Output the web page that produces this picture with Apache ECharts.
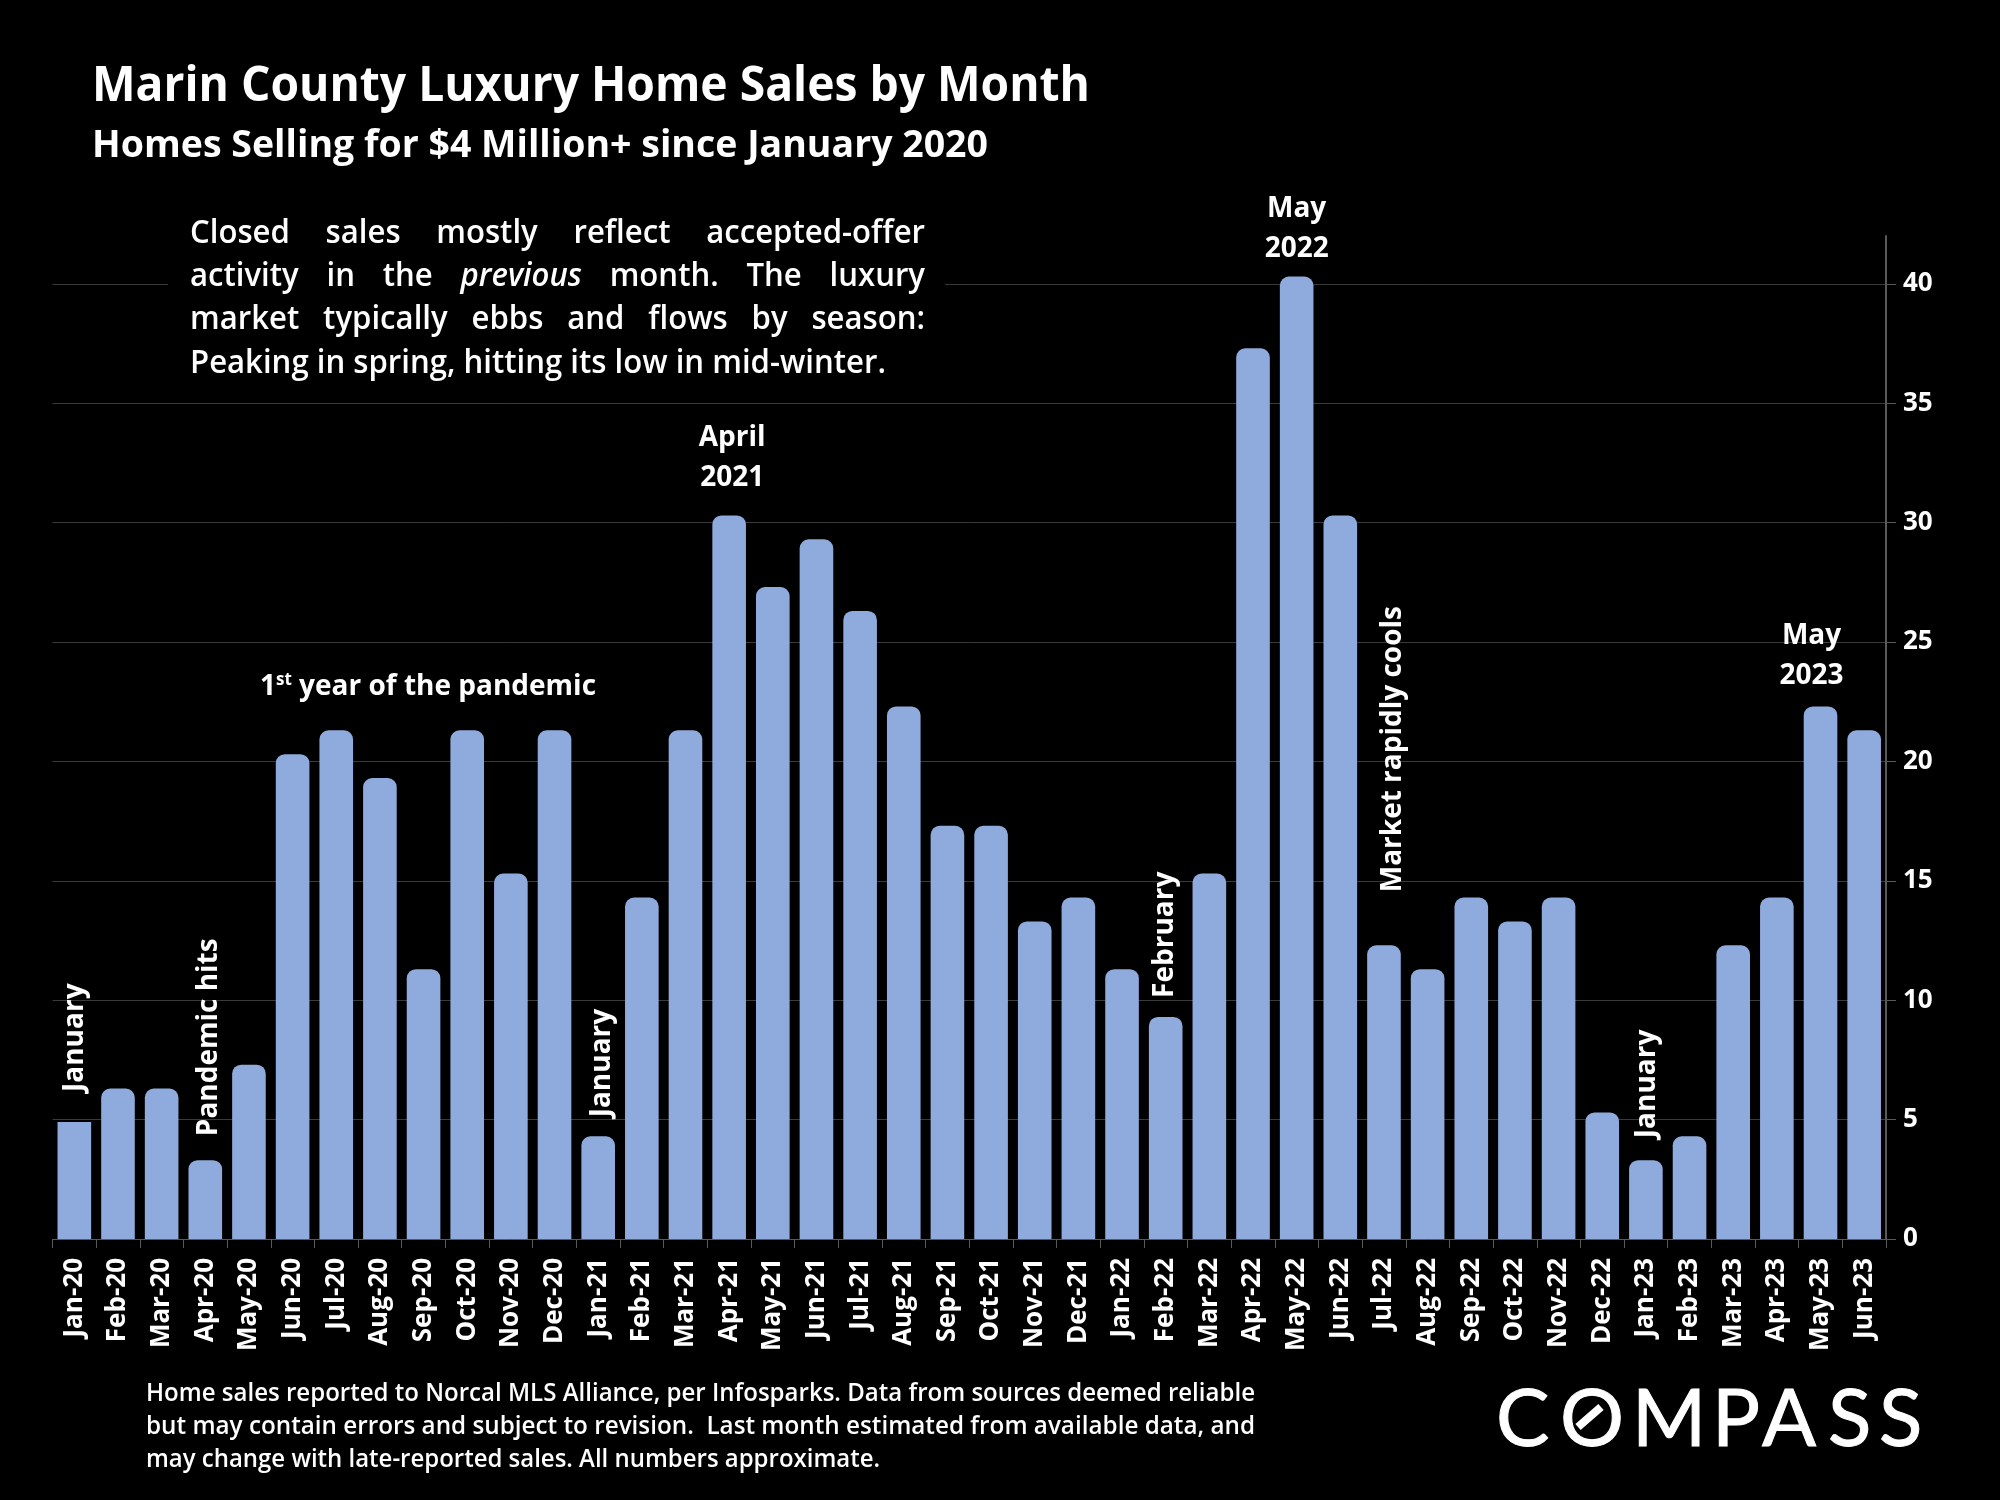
<!DOCTYPE html>
<html>
<head>
<meta charset="utf-8">
<title>Marin County Luxury Home Sales by Month</title>
<script src="https://cdn.jsdelivr.net/npm/echarts@6/dist/echarts.min.js"></script>
<style>
html,body{margin:0;padding:0;background:#000;}
#main{width:2000px;height:1500px;}
</style>
</head>
<body>
<div id="main"></div>
<script>
var months = ['Jan-20','Feb-20','Mar-20','Apr-20','May-20','Jun-20','Jul-20','Aug-20','Sep-20','Oct-20','Nov-20','Dec-20',
	'Jan-21','Feb-21','Mar-21','Apr-21','May-21','Jun-21','Jul-21','Aug-21','Sep-21','Oct-21','Nov-21','Dec-21',
	'Jan-22','Feb-22','Mar-22','Apr-22','May-22','Jun-22','Jul-22','Aug-22','Sep-22','Oct-22','Nov-22','Dec-22',
	'Jan-23','Feb-23','Mar-23','Apr-23','May-23','Jun-23'];
var sales = [4.9,6.3,6.3,3.3,7.3,20.3,21.3,19.3,11.3,21.3,15.3,21.3,
	4.3,14.3,21.3,30.3,27.3,29.3,26.3,22.3,17.3,17.3,13.3,14.3,
	11.3,9.3,15.3,37.3,40.3,30.3,12.3,11.3,14.3,13.3,14.3,5.3,
	3.3,4.3,12.3,14.3,22.3,21.3];
var yTicks = [0,5,10,15,20,25,30,35,40];
var yMax = 42;

var noteMonths = ['Jan-20','Apr-20','Jan-21','Apr-21','Feb-22','May-22','Jul-22','Jan-23','May-23'];
var noteTexts = ['January','Pandemic hits','January','April\n2021','February','May\n2022','Market rapidly cools','January','May\n2023'];

var titleText = 'Marin County Luxury Home Sales by Month';
var subtitleText = 'Homes Selling for $4 Million+ since January 2020';
var bodyLines = [
	'Closed sales mostly reflect accepted-offer',
	'activity in the previous month. The luxury',
	'market typically ebbs and flows by season:',
	'Peaking in spring, hitting its low in mid-winter.'
];
var footLines = [
	'Home sales reported to Norcal MLS Alliance, per Infosparks. Data from sources deemed reliable',
	'but may contain errors and subject to revision.  Last month estimated from available data, and',
	'may change with late-reported sales. All numbers approximate.'
];
var logoLetters = ['C','O','M','P','A','S','S'];

var FONT = '"Open Sans", "Noto Sans", sans-serif';
var BAR = '#8faadc';

// gap between the bar top and its note, by note index
var noteGap = [30,24,19,17,19,8,53,22,10];
// sideways nudge of each note in screen px
var noteShift = [1,4,4,3,-1,0,9,1,-9];

var ctx = document.createElement('canvas').getContext('2d');
function widthOf(str,size,weight,style){
	ctx.font = (style||'normal')+' '+weight+' '+size+'px "Open Sans"';
	return ctx.measureText(str).width;
}
// baseline y -> the y zrender wants for a middle aligned text
function textEl(str,x,base,size,weight,sx,style){
	return {
		type:'text', z:100, x:x, y:base-size*0.355, scaleX:sx||1,
		style:{text:str,fill:'#fff',font:(style||'normal')+' '+weight+' '+size+'px '+FONT,align:'left',verticalAlign:'middle'}
	};
}
// one line squeezed to the width it has in the picture
function fitLine(str,x,base,size,weight,w){
	return textEl(str,x,base,size,weight,w/widthOf(str,size,weight));
}

var graphics = [];
graphics.push({type:'rect',z:1,shape:{x:168,y:215,width:777,height:170},style:{fill:'#000'}});
graphics.push(fitLine(titleText,92,104,49,700,998));
graphics.push(fitLine(subtitleText,92,160,38,700,896));

// paragraph, justified word by word
var bodySize = 33, bodyW = 600, bodyX = 190, bodyRight = 925;
var bodyBase = [245,288,331,375];
var bodyScale = 696/widthOf(bodyLines[3],bodySize,bodyW);
for(var i=0;i<bodyLines.length;i++){
	if(i==3){
		graphics.push(textEl(bodyLines[i],bodyX,bodyBase[i],bodySize,bodyW,bodyScale));
		continue;
	}
	var words = bodyLines[i].split(' ');
	var used = 0;
	for(var j=0;j<words.length;j++){
		used += widthOf(words[j],bodySize,bodyW,words[j]=='previous'?'italic':'normal')*bodyScale;
	}
	var gap = (bodyRight-bodyX-used)/(words.length-1);
	var cx = bodyX;
	for(var j=0;j<words.length;j++){
		var st = words[j]=='previous'?'italic':'normal';
		graphics.push(textEl(words[j],cx,bodyBase[i],bodySize,bodyW,bodyScale,st));
		cx += widthOf(words[j],bodySize,bodyW,st)*bodyScale+gap;
	}
}

// 1st year note
graphics.push({
	type:'text', z:100, x:260, y:687,
	style:{
		text:'1{s|st} year of the pandemic', fill:'#fff', font:'700 28px '+FONT, align:'left', verticalAlign:'middle',
		rich:{s:{fontSize:17,fontWeight:700,fontFamily:FONT,fill:'#fff',verticalAlign:'top',lineHeight:30,padding:[0,0,10,0]}}
	}
});

// footer
graphics.push(fitLine(footLines[0],146,1403,26,600,1109));
graphics.push(fitLine(footLines[1],146,1436,26,600,1109));
graphics.push(fitLine(footLines[2],146,1469,26,600,734));

// logo
var logoX = [1496,1560,1632,1712,1762,1828,1879];
for(var i=0;i<logoLetters.length;i++){
	graphics.push({
		type:'text', z:100, x:logoX[i], y:1420,
		style:{text:logoLetters[i],fill:'#fff',stroke:'#fff',lineWidth:1,font:'400 80px Lato, '+FONT,align:'left',verticalAlign:'middle'}
	});
}
graphics.push({type:'line',z:100,shape:{x1:1578,y1:1427,x2:1601,y2:1407},style:{stroke:'#fff',lineWidth:8}});

var barData = [];
for(var i=0;i<sales.length;i++){
	var item = {value:sales[i]};
	if(i==0){item.itemStyle = {borderRadius:0};}
	barData.push(item);
}
for(var n=0;n<noteMonths.length;n++){
	var isStacked = noteTexts[n].indexOf('\n')>=0;
	barData[months.indexOf(noteMonths[n])].label = {
		show:true,
		formatter:noteTexts[n],
		position:'top',
		distance:noteGap[n],
		// offset turns with the label, so a rotated note moves sideways on its y
		offset:isStacked?[noteShift[n],0]:[0,noteShift[n]],
		rotate:isStacked?0:90,
		align:isStacked?'center':'left',
		verticalAlign:isStacked?'bottom':'middle',
		lineHeight:40,
		color:'#fff',
		fontFamily:FONT,
		fontSize:28,
		fontWeight:700
	};
}

var myChart = echarts.init(document.getElementById('main'));
var option = {
	animation:false,
	backgroundColor:'#000',
	textStyle:{fontFamily:FONT},
	grid:{left:52.5,right:114,top:236,bottom:261},
	xAxis:{
		type:'category',
		data:months,
		boundaryGap:true,
		axisLine:{lineStyle:{color:'#595959',width:1}},
		axisTick:{show:true,alignWithLabel:false,interval:0,length:9,lineStyle:{color:'#595959',width:1}},
		axisLabel:{interval:0,rotate:90,margin:19,color:'#fff',fontFamily:FONT,fontSize:26,fontWeight:700},
		splitLine:{show:false}
	},
	yAxis:{
		type:'value',
		position:'right',
		min:0,
		max:yMax,
		axisLine:{show:true,lineStyle:{color:'#595959',width:2}},
		axisTick:{show:true,length:10,customValues:yTicks,lineStyle:{color:'#595959',width:1}},
		axisLabel:{customValues:yTicks,margin:17,color:'#fff',fontFamily:FONT,fontSize:26,fontWeight:700},
		splitLine:{show:true,lineStyle:{color:'#3a3a3a',width:1}}
	},
	series:[{
		type:'bar',
		data:barData,
		barWidth:'77%',
		itemStyle:{color:BAR,borderRadius:[9,9,0,0]}
	}],
	graphic:{elements:graphics}
};
myChart.setOption(option);
</script>
</body>
</html>
